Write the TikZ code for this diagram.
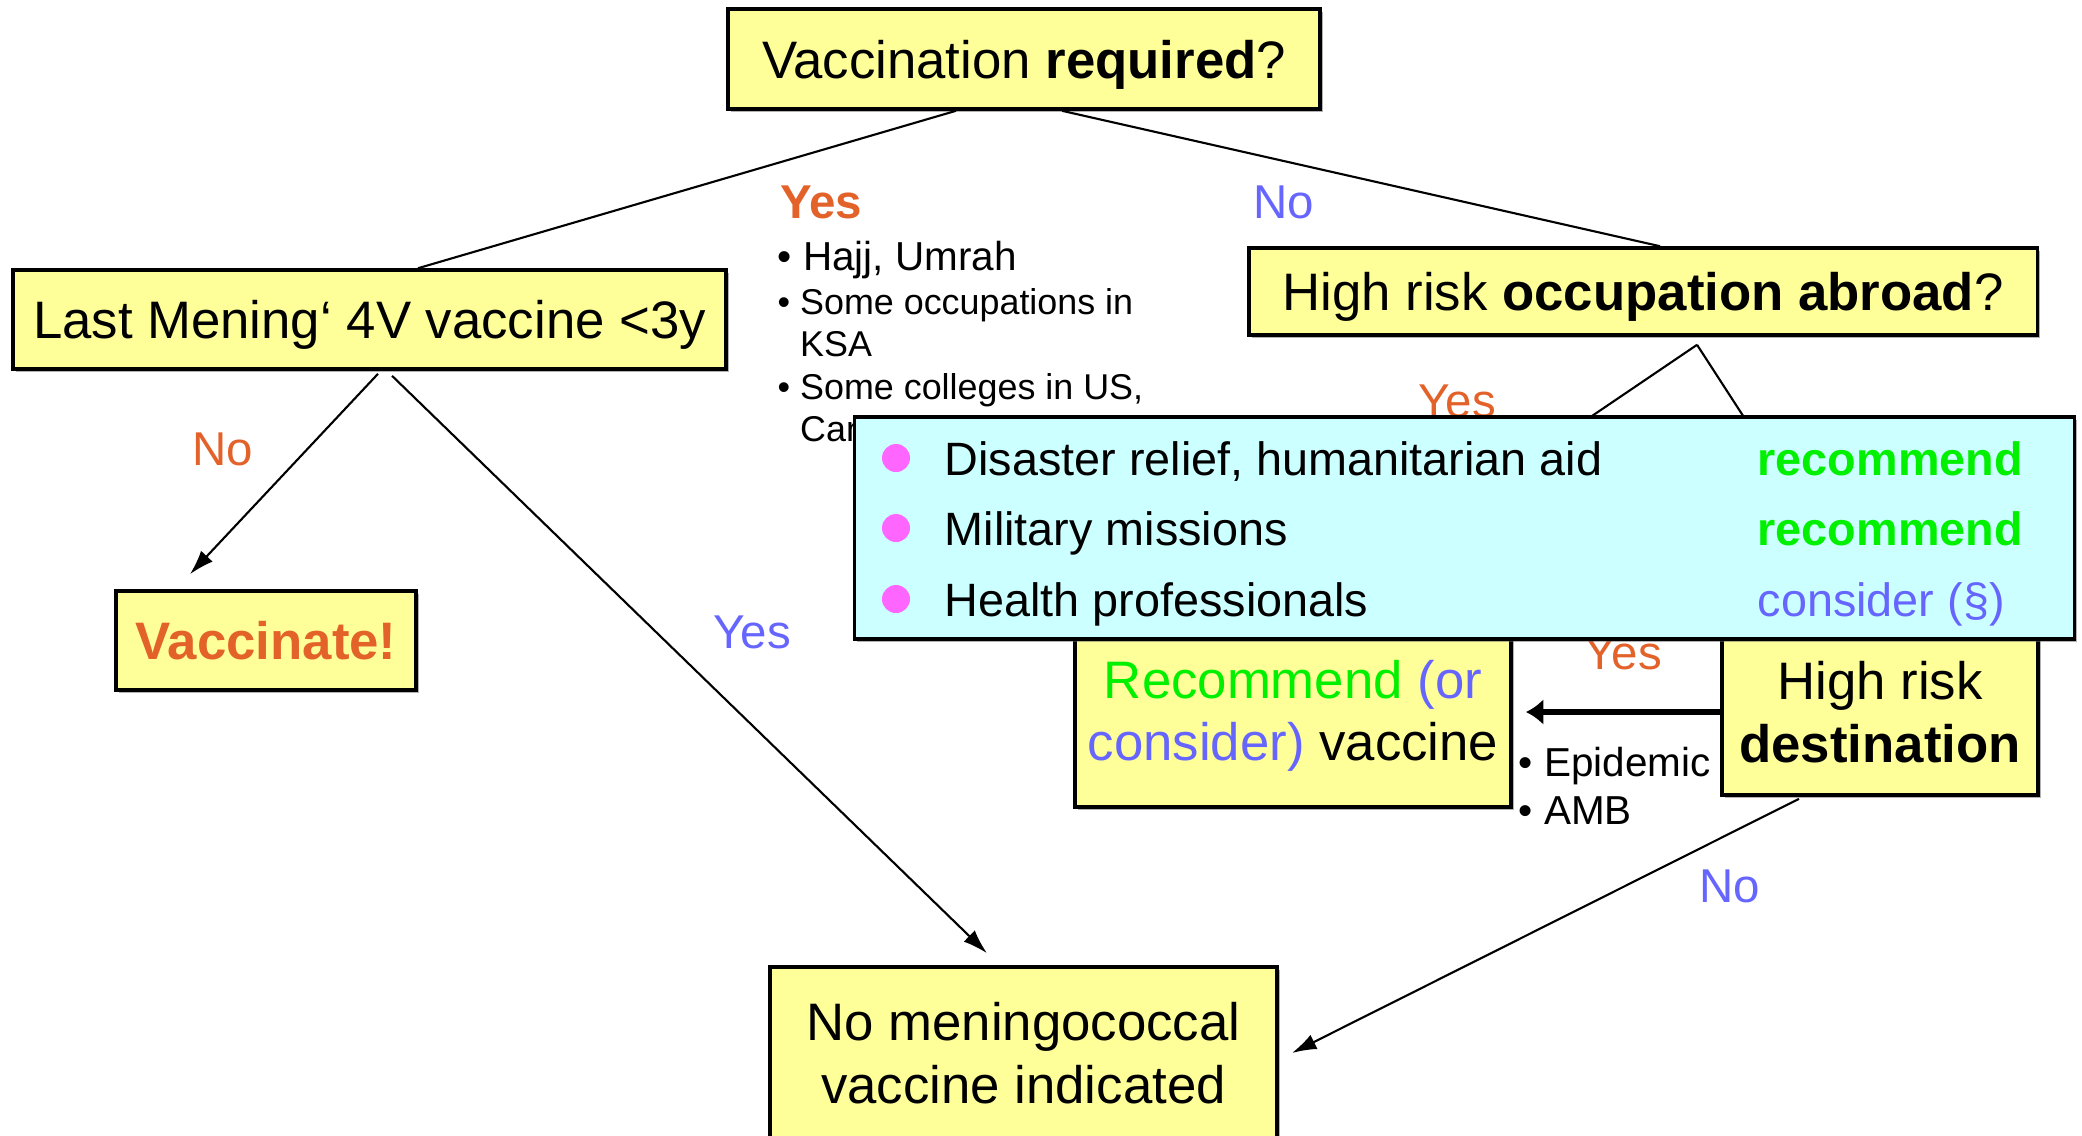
\documentclass[tikz,border=0pt]{standalone}
\usepackage{fontspec}
\setmainfont{Liberation Sans}
\usepackage{xcolor}
\usetikzlibrary{arrows.meta,shadows}

\definecolor{boxyellow}{RGB}{255,255,153}
\definecolor{notecyan}{RGB}{204,255,255}
\definecolor{yesorange}{RGB}{226,98,42}
\definecolor{noblue}{RGB}{102,102,255}
\definecolor{recgreen}{RGB}{0,240,0}
\definecolor{dotpink}{RGB}{255,102,255}

\begin{document}
\begin{tikzpicture}[x=0.01cm, y=-0.01cm,
    ybox/.style={draw, line width=1pt, fill=boxyellow, inner sep=0pt, align=center,
        drop shadow={shadow xshift=0.8pt, shadow yshift=-0.8pt, fill=black!60},
        font=\fontsize{15}{17.7}\selectfont},
    link/.style={line width=0.6pt},
    arrow/.style={line width=0.6pt, -{Latex[length=7pt, width=4.5pt]}},
    bigarrow/.style={line width=1.5pt, -{Latex[length=5pt, width=7.5pt]}},
    yeslab/.style={text=yesorange, inner sep=0pt, font=\fontsize{13.5}{16}\selectfont},
    nolab/.style={text=noblue, inner sep=0pt, font=\fontsize{13.5}{16}\selectfont},
    note/.style={inner sep=0pt, font=\fontsize{13.3}{16}\selectfont},
    small/.style={inner sep=0pt, align=left, font=\fontsize{10.2}{12}\selectfont}]

    \useasboundingbox (0, 0) rectangle (2082, 1135);
    \clip (0, 0) rectangle (2082, 1135);

    % decision boxes
    \node[ybox, text depth=0pt, minimum width=5.92cm, minimum height=1cm] (top) at (1024, 59) {Vaccination \textbf{required}?};
    \node[ybox, text depth=0pt, minimum width=7.13cm, minimum height=0.99cm] (mening) at (369.5, 319.5) {Last Mening‘ 4V vaccine <3y};
    \node[ybox, text depth=0pt, minimum width=7.88cm, minimum height=0.87cm] (occ) at (1643, 291.5) {High risk \textbf{occupation abroad}?};
    \node[ybox, minimum width=3cm, minimum height=0.99cm, text=yesorange] (vacc) at (266, 640.5) {\textbf{Vaccinate!}};
    \node[ybox, minimum width=4.36cm, minimum height=2.07cm] (rec) at (1293, 703.5) {};
    \node[ybox, minimum width=3.16cm, minimum height=1.66cm] (dest) at (1880, 712) {High risk\\\textbf{destination}};
    \node[ybox, minimum width=5.07cm, minimum height=1.72cm] (nomen) at (1023.5, 1053) {No meningococcal\\vaccine indicated};

    \node[inner sep=0pt, align=center, font=\fontsize{15}{17.7}\selectfont] (rectext) at (1293, 716)
        {\textcolor{recgreen}{Recommend} \textcolor{noblue}{(or}\\\textcolor{noblue}{consider)} vaccine};

    % connectors
    \draw[link] ([xshift=-0.68cm]top.south) -- ([xshift=0.485cm]mening.north);
    \draw[link] ([xshift=0.38cm]top.south) -- ([xshift=0.17cm]occ.north);
    \draw[arrow] ([xshift=0.085cm, yshift=-0.03cm]mening.south) -- ([xshift=-0.76cm, yshift=0.15cm]vacc.north);
    \draw[arrow] ([xshift=0.225cm, yshift=-0.05cm]mening.south) -- ([xshift=-0.365cm, yshift=0.12cm]nomen.north);
    \draw[link] ([xshift=0.54cm, yshift=-0.08cm]occ.south) -- ([xshift=0.3cm]rec.north);
    \draw[link] ([xshift=0.54cm, yshift=-0.08cm]occ.south) -- (dest.north);
    \draw[bigarrow, shorten >=0.13cm] (dest.west) -- (dest.west -| rec.east);
    \draw[arrow] ([xshift=-0.81cm, yshift=-0.02cm]dest.south) -- ([xshift=0.13cm]nomen.east);

    % branch labels
    \node[yeslab, font=\fontsize{13.5}{16}\selectfont\bfseries] (reqyes) at (821, 202) {Yes};
    \node[nolab] (reqno) at (1284, 202) {No};
    \node[yeslab] (menno) at (223, 449) {No};
    \node[nolab] (menyes) at (752, 632) {Yes};
    \node[yeslab] (occyes) at (1457, 401) {Yes};
    \node[yeslab] (destyes) at (1623, 653) {Yes};
    \node[nolab] (destno) at (1730, 886) {No};

    \node[small, anchor=north west] (reasons) at (777, 240)
        {{\fontsize{11.5}{13}\selectfont \textbullet\ Hajj, Umrah}\\[0.7pt]
         \textbullet\ Some occupations in\\
         \phantom{\textbullet\ }KSA\\
         \textbullet\ Some colleges in US,\\
         \phantom{\textbullet\ }Canada, UK};

    \node[small, anchor=north west, font=\fontsize{11.5}{13.7}\selectfont] (epidemic) at (1518, 746)
        {\textbullet\ Epidemic\\\textbullet\ AMB};

    % occupation groups
    \node[draw, line width=1pt, fill=notecyan, minimum width=12.19cm, minimum height=2.22cm,
        drop shadow={shadow xshift=0.8pt, shadow yshift=-0.8pt, fill=black!60}] (groups) at (1464.5, 528) {};

    \fill[dotpink] (896, 458) circle (0.14cm);
    \fill[dotpink] (896, 528) circle (0.14cm);
    \fill[dotpink] (896, 599) circle (0.14cm);

    \node[note, anchor=base west] (relief) at (944, 475) {Disaster relief, humanitarian aid};
    \node[note, anchor=base west] (military) at (944, 545) {Military missions};
    \node[note, anchor=base west] (health) at (944, 616) {Health professionals};

    \node[note, anchor=base west, text=recgreen] (reliefrec) at (1757, 475) {\textbf{recommend}};
    \node[note, anchor=base west, text=recgreen] (militaryrec) at (1757, 545) {\textbf{recommend}};
    \node[note, anchor=base west, text=noblue] (healthrec) at (1757, 616) {consider (§)};

\end{tikzpicture}
\end{document}
